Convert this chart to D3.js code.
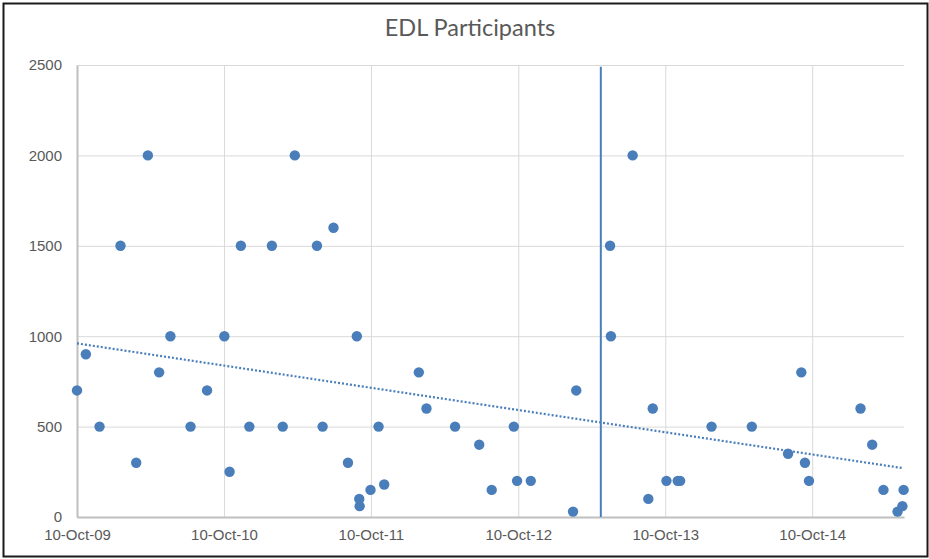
<!DOCTYPE html>
<html>
<head>
<meta charset="utf-8">
<script src="https://cdn.jsdelivr.net/npm/d3@7"></script>
<style>
  body { margin: 0; background: #fff; }
  svg { display: block; font-family: Lato, "Open Sans", sans-serif; }
</style>
</head>
<body>
<div id="chart"></div>
<script>
// event dates and participant counts
var dates = [
  "2009-10-10", "2009-11-01", "2009-12-05", "2010-01-26", "2010-03-06", "2010-04-04",
  "2010-05-02", "2010-05-30", "2010-07-19", "2010-08-29", "2010-10-11", "2010-10-24",
  "2010-11-21", "2010-12-12", "2011-02-06", "2011-03-05", "2011-04-04", "2011-05-29",
  "2011-06-12", "2011-07-09", "2011-08-14", "2011-09-05", "2011-09-11", "2011-09-12",
  "2011-10-09", "2011-10-29", "2011-11-12", "2012-02-06", "2012-02-25", "2012-05-06",
  "2012-07-05", "2012-08-05", "2012-09-29", "2012-10-07", "2012-11-10", "2013-02-23",
  "2013-03-03", "2013-05-26", "2013-05-28", "2013-07-21", "2013-08-29", "2013-09-09",
  "2013-10-13", "2013-11-10", "2013-11-16", "2014-02-02", "2014-05-13", "2014-08-11",
  "2014-09-13", "2014-09-22", "2014-10-02", "2015-02-07", "2015-03-08", "2015-04-05",
  "2015-05-10", "2015-05-22", "2015-05-25"
]
var participants = [
  700, 900, 500, 1500, 300, 2000,
  800, 1000, 500, 700, 1000, 250,
  1500, 500, 1500, 500, 2000, 1500,
  500, 1600, 300, 1000, 100, 60,
  150, 500, 180, 800, 600, 500,
  400, 150, 500, 200, 200, 30,
  700, 1500, 1000, 2000, 100, 600,
  200, 200, 200, 500, 500, 350,
  800, 300, 200, 600, 400, 150,
  30, 60, 150
]
var xRange = ["2009-10-10", "2015-05-26"]
var tickYears = [2009, 2010, 2011, 2012, 2013, 2014]
var yTicks = [0, 500, 1000, 1500, 2000, 2500]
var markerDate = "2013-05-03"   // vertical marker line

var parse = d3.timeParse("%Y-%m-%d")
var data = dates.map(function(d, i) { return {date: parse(d), value: participants[i]} })

var W = 929, H = 559
var margin = {top: 65, right: 25, bottom: 42, left: 77},
    width = W - margin.left - margin.right,
    height = H - margin.top - margin.bottom;

var svg = d3.select("#chart")
  .append("svg")
    .attr("width", W)
    .attr("height", H)

// chart border
svg.append("rect")
  .attr("x", 3.5).attr("y", 3.5)
  .attr("width", W - 5).attr("height", H - 6)
  .attr("fill", "#fff")
  .attr("stroke", "#1a1a1a")
  .attr("stroke-width", 2)

svg.append("text")
  .attr("x", 470)
  .attr("y", 36)
  .attr("text-anchor", "middle")
  .style("font-size", "23.5px")
  .style("fill", "#595959")
  .text("EDL Participants")

var g = svg.append("g")
  .attr("transform", "translate(" + margin.left + "," + margin.top + ")")

var x = d3.scaleTime()
  .domain(xRange.map(parse))
  .range([0, width])

var y = d3.scaleLinear()
  .domain([0, 2500])
  .range([height, 0])

var tickDates = tickYears.map(function(yr) { return new Date(yr, 9, 10) })

// gridlines
g.append("g")
  .call(d3.axisLeft(y).tickValues(yTicks).tickSize(-width).tickFormat(""))
  .call(function(s) {
    s.select(".domain").remove()
    s.selectAll("line").attr("stroke", "#d9d9d9").attr("stroke-width", 1)
  })
g.append("g")
  .attr("transform", "translate(0," + height + ")")
  .call(d3.axisBottom(x).tickValues(tickDates).tickSize(-height).tickFormat(""))
  .call(function(s) {
    s.select(".domain").remove()
    s.selectAll("line").attr("stroke", "#d9d9d9").attr("stroke-width", 1)
  })

// Y axis
g.append("g")
  .call(d3.axisLeft(y).tickValues(yTicks).tickSize(0).tickPadding(15)
    .tickFormat(d3.format("d")))
  .call(function(s) {
    s.select(".domain").attr("stroke", "#bfbfbf").attr("stroke-width", 2)
    s.selectAll("text").style("font-size", "15px").style("fill", "#595959")
  })

// X axis
g.append("g")
  .attr("transform", "translate(0," + height + ")")
  .call(d3.axisBottom(x).tickValues(tickDates).tickSize(0).tickPadding(12)
    .tickFormat(d3.timeFormat("%d-%b-%y")))
  .call(function(s) {
    s.select(".domain").attr("stroke", "#bfbfbf").attr("stroke-width", 2)
    s.selectAll("text").style("font-size", "15px").style("fill", "#595959")
  })

// linear trendline (least squares on the data)
var n = data.length
var xs = data.map(function(d) { return +d.date })
var mx = d3.mean(xs), my = d3.mean(participants)
var sxy = d3.sum(data, function(d) { return (+d.date - mx) * (d.value - my) })
var sxx = d3.sum(xs, function(v) { return (v - mx) * (v - mx) })
var slope = sxy / sxx, icpt = my - slope * mx
var x0 = x.domain()[0], x1 = data[n - 1].date

g.append("line")
  .attr("x1", x(x0)).attr("y1", y(icpt + slope * x0))
  .attr("x2", x(x1)).attr("y2", y(icpt + slope * x1))
  .attr("stroke", "#4a7ebb")
  .attr("stroke-width", 2.2)
  .attr("stroke-dasharray", "2,2")

// marker line
g.append("line")
  .attr("x1", x(parse(markerDate))).attr("x2", x(parse(markerDate)))
  .attr("y1", y(2490)).attr("y2", y(0))
  .attr("stroke", "#4a7ebb")
  .attr("stroke-width", 2)

// points
g.append("g")
  .selectAll("circle")
  .data(data)
  .enter()
  .append("circle")
    .attr("cx", function(d) { return x(d.date) })
    .attr("cy", function(d) { return y(d.value) })
    .attr("r", 5.2)
    .style("fill", "#4a7ebb")
</script>
</body>
</html>
